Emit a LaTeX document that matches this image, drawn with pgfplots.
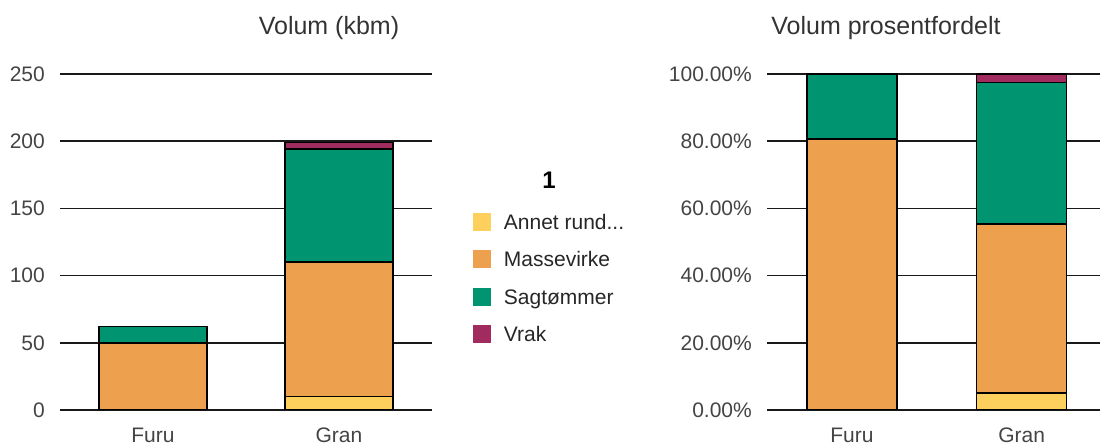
\documentclass[border=0pt]{standalone}
\usepackage{fontspec}
\setmainfont{Liberation Sans}
\usepackage{pgfplots}
\pgfplotsset{compat=1.18}
\definecolor{cAnnet}{HTML}{FDD05E}
\definecolor{cMasse}{HTML}{EDA14F}
\definecolor{cSag}{HTML}{009470}
\definecolor{cVrak}{HTML}{A12A5E}
\definecolor{txt}{HTML}{444444}
\pgfplotsset{
 mystyle/.style={
  scale only axis, anchor=south west,
  height=336pt,
  ybar stacked,
  ymin=0,
  xtick={0,1}, xticklabels={Furu,Gran},
  axis line style={draw=none},
  tick style={draw=none},
  ymajorgrids,
  major grid style={line width=1.6pt, black!90},
  every axis plot/.append style={draw=black, line width=1.6pt},
  tick label style={font=\fontsize{21}{25}\selectfont, text=txt, inner sep=0pt},
  xticklabel style={anchor=north, text height=15pt, yshift=-17pt},
  yticklabel style={anchor=east, xshift=-15pt},
  /pgf/number format/assume math mode=true,
 }
}
\begin{document}
\begin{tikzpicture}
\useasboundingbox (0,0) rectangle (1100pt,446pt);
\begin{axis}[mystyle, at={(60pt,36pt)}, width=372pt,
  xmin=-0.5, xmax=1.5, ymax=250, bar width=0.58,
  ytick={0,50,100,150,200,250}, yticklabels={0,50,100,150,200,250},
  legend image code/.code={\fill[#1, draw=none] (0pt,-7pt) rectangle (18pt,11pt);},
  legend cell align=left,
  legend style={at={(axis description cs:1.11,0.586)}, anchor=north west,
    draw=none, fill=none, inner sep=0pt, outer sep=0pt, row sep=16.7pt,
    font=\fontsize{21}{25}\selectfont, text=black!85,
    nodes={inner sep=0pt, text height=15pt, text depth=4pt},
    /tikz/every odd column/.append style={column sep=13pt}},
]
\addplot[fill=cAnnet] coordinates {(0,0) (1,10)};
\addlegendentry{Annet rund.{}.{}.}
\addplot[fill=cMasse] coordinates {(0,50) (1,100)};
\addlegendentry{Massevirke}
\addplot[fill=cSag] coordinates {(0,12) (1,84)};
\addlegendentry{Sagtømmer}
\addplot[fill=cVrak] coordinates {(0,0) (1,5)};
\addlegendentry{Vrak}
\end{axis}
\begin{axis}[mystyle, at={(767pt,36pt)}, width=333pt,
  xmin=-0.5, xmax=1.462, ymax=100, bar width=0.53,
  ytick={0,20,40,60,80,100},
  yticklabels={0.00\%,20.00\%,40.00\%,60.00\%,80.00\%,100.00\%},
]
\addplot[fill=cAnnet] coordinates {(0,0) (1,5.03)};
\addplot[fill=cMasse] coordinates {(0,80.65) (1,50.25)};
\addplot[fill=cSag] coordinates {(0,19.35) (1,42.21)};
\addplot[fill=cVrak] coordinates {(0,0) (1,2.51)};
\end{axis}
\node[anchor=base, font=\fontsize{25}{30}\selectfont, text=black!80] at (329pt,411pt) {Volum (kbm)};
\node[anchor=base, font=\fontsize{25}{30}\selectfont, text=black!80] at (886pt,411pt) {Volum prosentfordelt};
\node[anchor=base, font=\bfseries\fontsize{24}{28}\selectfont] at (549pt,257pt) {1};
\end{tikzpicture}
\end{document}
